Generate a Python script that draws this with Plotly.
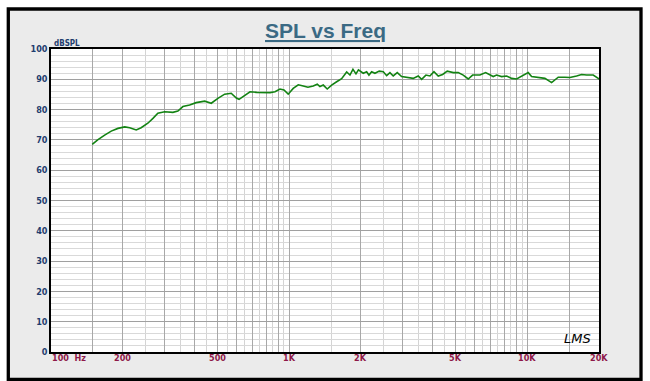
import math
import plotly.graph_objects as go

# ---- data ----
freq_hz = [149,157,168,179,191,204,214,228,239,255,
           268,281,300,325,341,358,382,407,442,471,
           502,536,571,600,616,642,685,731,779,831,
           872,915,951,991,1040,1092,1146,1199,1262,1312,
           1347,1391,1445,1508,1583,1661,1744,1800,1853,1908,
           1954,2047,2115,2163,2220,2292,2389,2484,2567,2650,
           2735,2844,2967,3162,3319,3483,3600,3752,3900,4055,
           4227,4410,4610,4887,5128,5382,5648,5893,6324,6683,
           6966,7193,7431,7801,8188,8593,9018,9465,10088,10425,
           11112,11857,12647,13484,14382,15097,16102,16904,17744,18912,
           19847,20000]
spl_db = [68.5,70.0,71.6,72.9,73.8,74.3,74.0,73.3,74.0,75.5,
          77.1,78.8,79.3,79.1,79.5,81.0,81.5,82.3,82.8,82.1,
          83.7,85.1,85.4,83.8,83.4,84.3,85.9,85.7,85.7,85.6,
          85.9,86.8,86.5,85.1,87.0,88.2,87.8,87.4,87.8,88.4,
          87.6,88.1,86.8,88.1,89.2,90.2,92.4,91.4,93.3,91.8,
          93.1,92.0,92.5,91.4,92.5,92.0,92.7,92.5,91.2,92.2,
          91.1,92.2,90.9,90.6,90.3,91.1,90.0,91.4,91.1,92.5,
          91.1,91.6,92.7,92.2,92.2,91.4,90.1,91.4,91.4,92.2,
          91.6,90.9,91.4,90.9,91.1,90.3,90.1,90.9,92.2,90.9,
          90.7,90.3,88.9,90.7,90.7,90.6,91.1,91.6,91.4,91.4,
          90.3,90.0]

x_tick_vals = [100, 200, 500, 1000, 2000, 5000, 10000, 20000]
x_tick_text = ["100  Hz", "200", "500", "1K", "2K", "5K", "10K", "20K"]
y_tick_vals = [0, 10, 20, 30, 40, 50, 60, 70, 80, 90, 100]

grid_major_x = [150, 200, 300, 400, 500, 600, 700, 800, 900, 1000,
                2000, 3000, 4000, 5000, 6000, 7000, 8000, 9000, 10000, 15000]
grid_minor_x = [250, 350, 450, 550, 650, 750, 850, 950,
                1500, 2500, 3500, 4500, 5500, 6500, 7500, 8500, 9500]

title_text = "SPL vs Freq"
y_unit = "dBSPL"
logo_text = "LMS"

# ---- layout constants ----
W, H = 650, 381
L, R, T, B = 51, 51, 49, 29
PW, PH = W - L - R, H - T - B

def px(xp):
    return (xp - L) / PW

def py(yp):
    return (H - B - yp) / PH

narrow = "Liberation Sans Narrow, Arial Narrow, DejaVu Sans Condensed, sans-serif"
navy = "#1f3d6e"
maroon = "#8e1848"

fig = go.Figure()
fig.add_trace(go.Scatter(
    x=freq_hz, y=spl_db, mode="lines",
    line=dict(color="#138313", width=1.6),
    hoverinfo="skip", showlegend=False))

shapes = [
    # outer window panel
    dict(type="rect", xref="paper", yref="paper", layer="below",
         x0=px(8.3), x1=px(641), y0=py(379.3), y1=py(9),
         fillcolor="#ebebeb", line=dict(color="black", width=3.3)),
    # plot area
    dict(type="rect", xref="paper", yref="paper", layer="below",
         x0=0, x1=1, y0=0, y1=1, fillcolor="white", line=dict(width=0)),
]

annotations = []
for v, t in zip(x_tick_vals, x_tick_text):
    annotations.append(dict(
        x=math.log10(v), xref="x", y=py(357.5), yref="paper",
        text="<b>%s</b>" % t, showarrow=False,
        xanchor="left" if v == x_tick_vals[0] else "center",
        xshift=-1 if v == x_tick_vals[0] else 0,
        yanchor="middle",
        font=dict(family=narrow, size=9, color=maroon)))

annotations.append(dict(
    x=px(52), xref="paper", y=py(44), yref="paper",
    text="<b>%s</b>" % y_unit, showarrow=False, xanchor="left", yanchor="middle",
    font=dict(family=narrow, size=8, color=navy)))

annotations.append(dict(
    x=px(577), xref="paper", y=py(338), yref="paper",
    text="<i>%s</i>" % logo_text, showarrow=False, xanchor="center", yanchor="middle",
    font=dict(family="DejaVu Sans, sans-serif", size=13, color="black")))

annotations.append(dict(
    x=0.5, xref="paper", y=py(30), yref="paper",
    text="<b><u>%s</u></b>" % title_text, showarrow=False, xanchor="center", yanchor="middle",
    font=dict(family="Liberation Sans, Arial, sans-serif", size=21, color="#3b6a84")))

fig.update_layout(
    width=W, height=H,
    margin=dict(l=L, r=R, t=T, b=B, pad=0),
    paper_bgcolor="white", plot_bgcolor="white",
    shapes=shapes, annotations=annotations,
    showlegend=False,
    xaxis=dict(
        type="log", range=[2, 4.30103],
        tickmode="array", tickvals=grid_major_x, showticklabels=False,
        showgrid=True, gridcolor="#a8a8a8", gridwidth=1,
        minor=dict(tickmode="array", tickvals=grid_minor_x, showgrid=True,
                   gridcolor="#d4d4d4", gridwidth=1),
        showline=True, linecolor="black", linewidth=1.5, mirror=True,
        zeroline=False, ticks=""),
    yaxis=dict(
        range=[0, 100], tickmode="array", tickvals=y_tick_vals,
        tickfont=dict(family=narrow, size=9, color=navy, weight="bold"),
        showgrid=True, gridcolor="#a0a0a0", gridwidth=1,
        minor=dict(dtick=2, showgrid=True, gridcolor="#d9d9d9", gridwidth=1),
        showline=True, linecolor="black", linewidth=1.5, mirror=True,
        zeroline=False, ticks=""),
)

fig.write_html("out.html", config={"displayModeBar": False},
               post_script="document.body.style.margin='0';document.body.style.overflow='hidden';")
